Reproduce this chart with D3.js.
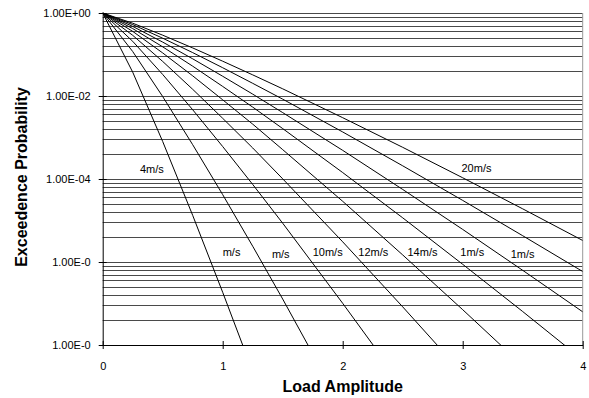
<!DOCTYPE html>
<html lang="en">
<head>
  <meta charset="UTF-8">
  <title>Exceedence Probability</title>
  <style>
    body { margin: 0; background: #fff; }
    svg text { font-family: Arial, "Liberation Sans", sans-serif; fill: #000; }
  </style>
</head>
<body>
<div id="chart"></div>
<script src="https://cdn.jsdelivr.net/npm/d3@7"></script>
<script>
// load amplitude sample points (shared by every curve)
let loadAmp = [0, 0.25, 0.5, 0.75, 1, 1.25, 1.5, 2, 2.5, 3, 3.5, 4]
// exceedence probability per wind speed (null = past the plot)
let p4  = [1, 0.0376, 8.0e-4, 1.33e-5, 1.86e-7, 2.3e-9, 2.5e-11, null, null, null, null, null]
let p6  = [1, 0.118, 9.7e-3, 6.7e-4, 4.2e-5, 2.4e-6, 1.28e-7, 3.0e-10, null, null, null, null]
let p8  = [1, 0.208, 0.033, 4.66e-3, 6.05e-4, 7.4e-5, 8.6e-6, 1.01e-7, 1.05e-9, null, null, null]
let p10 = [1, 0.290, 0.068, 0.0145, 2.9e-3, 5.6e-4, 1.01e-4, 3.06e-6, 8.3e-8, 2.07e-9, null, null]
let p12 = [1, 0.361, 0.109, 0.0306, 8.1e-3, 2.1e-3, 5.1e-4, 2.9e-5, 1.48e-6, 7.1e-8, 3.2e-9, null]
let p14 = [1, 0.422, 0.153, 0.0523, 0.0170, 5.4e-3, 1.64e-3, 1.43e-4, 1.16e-5, 8.8e-7, 6.4e-8, 4.4e-9]
let p16 = [1, 0.476, 0.199, 0.0787, 0.0299, 0.0111, 3.98e-3, 4.9e-4, 5.6e-5, 6.1e-6, 6.3e-7, 6.3e-8]
let p18 = [1, 0.526, 0.247, 0.111, 0.048, 0.0202, 8.4e-3, 1.36e-3, 2.08e-4, 3.05e-5, 4.3e-6, 5.9e-7]
let p20 = [1, 0.568, 0.292, 0.144, 0.069, 0.0323, 0.0149, 3.0e-3, 5.8e-4, 1.07e-4, 1.91e-5, 3.3e-6]
let series = [p4, p6, p8, p10, p12, p14, p16, p18, p20]
// curve labels as printed (some are cut short in the original)
let seriesNames = ['4m/s', 'm/s', 'm/s', '10m/s', '12m/s', '14m/s', '1m/s', '1m/s', '20m/s']
let nameAtX = [0.31, 1.0, 1.41, 1.75, 2.13, 2.54, 2.98, 3.40, 2.99]
let nameAtP = [1.4e-4, 1.4e-6, 1.25e-6, 1.4e-6, 1.4e-6, 1.4e-6, 1.4e-6, 1.25e-6, 1.5e-4]
let xTicks = [0, 1, 2, 3, 4]
let yTicks = [1, 1e-2, 1e-4, 1e-6, 1e-8]
let yTickText = ['1.00E+00', '1.00E-02', '1.00E-04', '1.00E-0', '1.00E-0']
let xtitle = 'Load Amplitude'
let ytitle = 'Exceedence Probability'

let width = 589
let height = 398
let plotL = 102.7, plotR = 582.7, plotT = 13, plotB = 345

let svg = d3.select('#chart').append('svg').attr('width', width).attr('height', height)

let x = d3.scaleLinear().domain([0, 4]).range([plotL, plotR])
let y = d3.scaleLog().domain([1e-8, 1]).range([plotB, plotT])

// grid: major lines every two decades, minor ones at (k/10)^2 of each major step
let gridVals = []
for (let j = 0; j < 4; j++) {
  let major = Math.pow(10, -2 * j)
  gridVals.push(major)
  for (let k = 2; k <= 9; k++) gridVals.push(major * (k / 10) * (k / 10))
}
svg.append('g').selectAll('line').data(gridVals).join('line')
  .attr('x1', plotL).attr('x2', plotR)
  .attr('y1', d => Math.round(y(d)) + 0.5).attr('y2', d => Math.round(y(d)) + 0.5)
  .attr('stroke', '#4a4a4a').attr('stroke-width', 1)

// right border of plot area
svg.append('line').attr('x1', plotR).attr('x2', plotR).attr('y1', plotT).attr('y2', plotB)
  .attr('stroke', '#999').attr('stroke-width', 1)

// clip the curves to the plot
svg.append('clipPath').attr('id', 'plot').append('rect')
  .attr('x', plotL).attr('y', plotT - 1).attr('width', plotR - plotL).attr('height', plotB - plotT + 1)

let line = d3.line()
  .defined(d => d.p != null)
  .x(d => x(d.x))
  .y(d => y(d.p))

let curves = svg.append('g').attr('clip-path', 'url(#plot)')
series.forEach(vals => {
  let pts = vals.map((p, i) => ({ x: loadAmp[i], p: p }))
  curves.append('path').attr('d', line(pts))
    .attr('fill', 'none').attr('stroke', '#000').attr('stroke-width', 1)
})

// curve labels
svg.append('g').selectAll('text').data(seriesNames).join('text')
  .attr('x', (d, i) => x(nameAtX[i]))
  .attr('y', (d, i) => y(nameAtP[i]))
  .attr('font-size', '11px')
  .text(d => d)

// y axis
let yAxis = d3.axisLeft(y).tickValues(yTicks).tickFormat((d, i) => yTickText[i]).tickSize(4).tickSizeOuter(0)
let gy = svg.append('g').attr('transform', 'translate(' + plotL + ',0)').call(yAxis)
gy.select('.domain').attr('stroke', '#000')
gy.selectAll('.tick line').attr('x1', 4).attr('x2', -4).attr('stroke', '#000')
gy.selectAll('.tick text').attr('x', -12).attr('font-size', '11px')
  .attr('font-family', 'Arial, "Liberation Sans", sans-serif')

// x axis
let xAxis = d3.axisBottom(x).tickValues(xTicks).tickFormat(d3.format('d')).tickSize(4).tickSizeOuter(0)
let gx = svg.append('g').attr('transform', 'translate(0,' + plotB + ')').call(xAxis)
gx.select('.domain').attr('stroke', '#000')
gx.selectAll('.tick line').attr('y1', -4).attr('y2', 4).attr('stroke', '#000')
gx.selectAll('.tick text').attr('y', 17).attr('font-size', '11px')
  .attr('font-family', 'Arial, "Liberation Sans", sans-serif')

// axis titles
svg.append('text').text(xtitle)
  .attr('x', (plotL + plotR) / 2).attr('y', 392)
  .attr('text-anchor', 'middle').attr('font-size', '16px').attr('font-weight', 'bold')
svg.append('text').text(ytitle)
  .attr('transform', 'translate(27,177) rotate(-90)')
  .attr('text-anchor', 'middle').attr('font-size', '16px').attr('font-weight', 'bold')
</script>
</body>
</html>
